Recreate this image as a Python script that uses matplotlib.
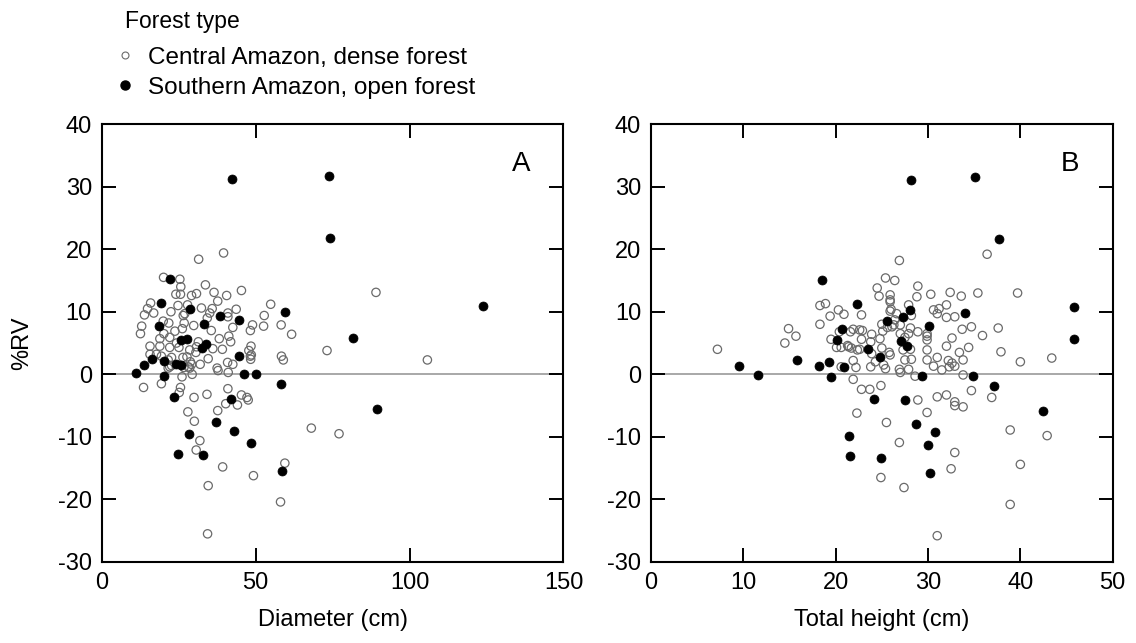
import matplotlib
matplotlib.use("Agg")
import matplotlib.pyplot as plt
from matplotlib.lines import Line2D

plt.rcParams['font.family'] = ['Liberation Sans', 'DejaVu Sans']
plt.rcParams['axes.unicode_minus'] = False

# Panel A: diameter (cm) vs %RV
dense_diam = [89.1, 73.2, 105.8, 68.1, 77.1,
              31.5, 39.6, 20.1, 25.4, 25.7, 33.7, 45.4,
              24.1, 25.6, 29.2, 30.8, 36.5, 40.6, 37.7, 54.9,
              15.9, 14.9, 13.9, 16.9, 22.5, 24.8, 27.9, 32.4,
              35.9, 35.1, 41.0, 41.0, 43.7, 52.8, 27.0, 26.5,
              13.0, 12.6, 20.0, 21.8, 20.2, 23.8, 26.2, 26.8,
              29.9, 34.3, 35.6, 38.2, 41.3, 42.6, 41.9, 48.3,
              49.0, 52.6, 58.3, 61.7, 48.5, 47.8, 48.3, 48.4,
              58.4, 59.0, 39.2, 36.1, 34.6, 32.0, 29.4, 37.5,
              37.8, 40.9, 42.6, 41.1, 26.1,
              18.9, 15.7, 18.9, 22.1, 24.3, 25.1, 22.1, 28.6,
              30.8, 31.4, 30.6, 15.7, 17.8, 19.4, 21.6, 22.1,
              22.7, 26.4, 27.7, 28.8, 26.7, 28.1, 48.6,
              13.6, 19.4, 25.6, 30.0, 34.2, 41.0, 45.4, 47.2,
              25.2, 47.6, 44.1, 40.3, 37.7, 28.0, 30.1, 31.9,
              30.7, 39.3, 49.3, 59.5, 34.6, 58.1, 34.4,
              22.7, 21.6, 29.2, 28.6]
dense_rv_a = [13.1, 3.8, 2.3, -8.6, -9.5,
              18.4, 19.4, 15.5, 15.2, 14.0, 14.3, 13.4,
              12.8, 12.8, 12.6, 12.9, 13.1, 12.6, 11.7, 11.2,
              11.4, 10.5, 9.5, 9.8, 10.0, 11.0, 11.1, 10.6,
              10.5, 9.8, 9.8, 9.2, 10.4, 9.4, 9.7, 9.4,
              7.7, 6.5, 8.5, 8.2, 6.5, 6.9, 7.3, 8.2,
              7.8, 9.0, 7.0, 5.7, 6.1, 7.5, 5.2, 7.0,
              7.9, 7.7, 7.9, 6.4, 4.5, 3.8, 2.9, 2.4,
              2.9, 2.3, 4.0, 4.1, 2.5, 1.6, 0.0, 1.0,
              0.6, 1.9, 1.6, 0.3, -0.4,
              5.7, 4.5, 4.5, 4.3, 5.0, 4.3, 5.9, 3.9,
              4.4, 5.2, 3.5, 3.2, 3.2, 2.9, 2.3, 1.2,
              2.7, 2.7, 2.8, 2.0, 1.1, 1.2, 3.1,
              -2.1, -1.5, -2.1, -3.7, -3.2, -2.3, -3.3, -3.7,
              -2.9, -4.1, -4.9, -4.7, -5.8, -6.0, -7.5, -10.6,
              -12.1, -14.8, -16.2, -14.2, -17.8, -20.4, -25.5,
              1.4, 1.0, 1.6, 1.0]

open_diam = [42.2, 73.8, 74.1, 22.1, 19.2, 28.6, 59.4, 38.3, 44.6, 18.6,
             33.1, 25.9, 27.7, 34.0, 32.7, 44.6, 16.3, 13.8, 20.4, 24.0,
             25.7, 11.3, 20.3, 46.1, 50.1, 58.4, 23.5, 42.1, 37.1, 43.0,
             28.5, 48.4, 24.7, 32.8, 58.6, 124.0, 81.8, 89.4]
open_rv_a = [31.2, 31.7, 21.8, 15.2, 11.4, 10.5, 10.0, 9.4, 8.7, 7.7,
             8.0, 5.5, 5.7, 4.8, 4.2, 2.9, 2.5, 1.5, 2.2, 1.6,
             1.5, 0.2, -0.3, 0.0, 0.0, -1.6, -3.6, -3.9, -7.6, -9.0,
             -9.6, -11.0, -12.8, -12.9, -15.5, 11.0, 5.8, -5.5]

# Panel B: total height vs %RV
dense_height = [7.2, 14.9, 15.7, 14.5, 18.3, 18.9, 19.4, 20.3, 20.9, 18.3, 19.5, 20.4,
                20.1, 20.6, 21.3, 21.7, 21.9, 22.35, 21.9, 20.6, 22.2, 21.9, 22.3,
                26.9, 36.4, 25.4, 26.4, 24.5, 24.7, 25.9, 25.9, 28.9, 28.8, 30.3, 32.4,
                33.6, 35.4, 39.7,
                22.8, 27.9, 25.9, 26.6, 28.2, 30.6, 31.2, 31.0, 32.0, 32.0, 32.9,
                25.0, 25.6, 26.3, 27.0, 28.1, 28.9, 29.9, 29.9, 33.7, 34.7, 37.6, 35.9,
                32.6, 32.0, 33.4, 34.4, 37.9, 40.0, 43.4,
                21.6, 22.6, 23.9, 22.8, 21.4, 23.8, 25.0, 25.8, 23.9, 24.3, 25.2, 27.3,
                28.2, 28.1, 27.5, 26.9, 27.0, 27.9, 29.9, 29.9, 29.9, 31.0, 30.6, 31.5,
                32.2, 32.6, 32.9, 32.3, 28.6, 33.8,
                22.8, 23.7, 24.9, 25.5, 28.9, 29.9, 31.0, 32.0, 32.9, 32.9, 33.8, 34.7,
                36.9, 26.9, 38.9, 42.9, 32.9, 32.5, 40.0, 24.9, 27.4, 38.9, 31.0,
                22.9, 22.6, 23.8, 25.4, 25.9, 26.4, 27.0, 26.0, 25.9, 27.9, 27.5, 26.1,
                25.1, 24.8, 33.8]
dense_rv_b = [4.0, 7.3, 6.1, 5.0, 11.0, 11.3, 9.3, 10.3, 9.6, 8.0, 5.6, 6.8,
              4.3, 4.3, 4.6, 4.2, 7.2, 3.9, 2.2, 1.2, 1.1, -0.8, -6.2,
              18.2, 19.2, 15.4, 15.0, 13.8, 12.5, 12.7, 11.6, 14.1, 12.4, 12.8, 13.1,
              12.5, 13.0, 13.0,
              9.5, 11.1, 10.1, 9.7, 9.4, 10.3, 10.5, 9.7, 11.1, 9.1, 9.2,
              8.0, 7.5, 7.9, 6.5, 7.4, 6.8, 6.5, 6.1, 7.2, 7.6, 7.4, 6.2,
              5.8, 4.5, 3.5, 4.3, 3.6, 2.0, 2.6,
              6.8, 7.1, 6.4, 5.6, 4.4, 5.2, 4.2, 3.5, 3.3, 2.0, 1.5, 3.9,
              2.4, 4.0, 2.3, 0.8, 0.3, 0.8, 5.5, 3.9, 2.3, 2.7, 1.3, 0.7,
              2.2, 1.8, 1.3, 1.2, -0.3, -0.1,
              -2.4, -2.4, -1.8, -7.7, -4.1, -6.1, -3.6, -3.3, -4.4, -5.0, -5.2, -2.6,
              -3.7, -10.9, -8.9, -9.8, -12.5, -15.1, -14.4, -16.5, -18.1, -20.8, -25.8,
              7.0, 4.0, 1.2, 0.9, 3.1, 8.7, 7.9, 10.4, 11.9, 6.5, 5.9, 7.6,
              6.9, 5.7, 2.3]

open_height = [18.56, 22.35, 20.66, 20.1, 15.8, 9.57, 18.2, 19.3, 20.9, 11.56,
               19.5, 21.4, 21.6, 28.2, 35.1, 37.7, 45.8, 45.8, 25.6, 27.3,
               28.1, 30.1, 34.0, 27.1, 27.7, 23.5, 24.8, 29.4, 34.9, 37.2,
               24.1, 27.5, 42.4, 28.7, 30.8, 30.0, 24.9, 30.2]
open_rv_b = [15.0, 11.2, 7.3, 5.5, 2.3, 1.3, 1.4, 1.9, 1.2, -0.1,
             -0.4, -9.9, -13.1, 31.1, 31.6, 21.6, 10.8, 5.6, 8.5, 9.1,
             10.3, 7.8, 9.8, 5.3, 4.6, 4.0, 2.7, -0.2, -0.2, -1.9,
             -3.9, -4.1, -5.9, -7.9, -9.3, -11.3, -13.3, -15.8]

panels = [
    (dense_diam, dense_rv_a, open_diam, open_rv_a, 'Diameter (cm)', [0, 50, 100, 150], 'A'),
    (dense_height, dense_rv_b, open_height, open_rv_b, 'Total height (cm)', [0, 10, 20, 30, 40, 50], 'B'),
]

fig = plt.figure(figsize=(11.36, 6.43), dpi=100)
lefts = [0.0895, 0.573]
w = 0.4065
bottom = 0.126
h = 0.681

gray = '#6a6a6a'
for i, (xd, yd, xo, yo, xlabel, xt, letter) in enumerate(panels):
    ax = fig.add_axes([lefts[i], bottom, w, h])
    ax.axhline(0, color='#9a9a9a', lw=1.2, zorder=1)
    ax.scatter(xd, yd, s=36, facecolors='none', edgecolors=gray, linewidths=0.9, zorder=2)
    ax.scatter(xo, yo, s=42, c='black', edgecolors='black', linewidths=0.5, zorder=3)
    ax.set_xlim(xt[0], xt[-1])
    ax.set_ylim(-30, 40)
    ax.set_xticks(xt)
    ax.set_yticks(range(-30, 41, 10))
    ax.tick_params(direction='in', length=10, width=1.4, labelsize=17, pad=7,
                   top=True, right=True)
    for sp in ax.spines.values():
        sp.set_linewidth(1.5)
    ax.set_xlabel(xlabel, fontsize=17)
    ax.xaxis.set_label_coords(0.5, -0.107)
    ax.text(0.908, 0.908, letter, transform=ax.transAxes, fontsize=20,
            ha='center', va='center')
    if i == 0:
        ax.set_ylabel('%RV', fontsize=17)
        ax.yaxis.set_label_coords(-0.149, 0.5)

fig.text(0.110, 0.956, 'Forest type', fontsize=16.5, ha='left', va='baseline')
handles = [
    Line2D([], [], ls='none', marker='o', markersize=5, markerfacecolor='none',
           markeredgecolor=gray, markeredgewidth=0.8),
    Line2D([], [], ls='none', marker='o', markersize=6.5, color='black'),
]
fig.legend(handles, ['Central Amazon, dense forest', 'Southern Amazon, open forest'],
           loc='upper left', bbox_to_anchor=(0.1015, 0.927), frameon=False,
           fontsize=17.5, handlelength=0.8, handletextpad=0.55, labelspacing=0.33,
           borderpad=0, borderaxespad=0)

fig.savefig('out.png', dpi=100)
